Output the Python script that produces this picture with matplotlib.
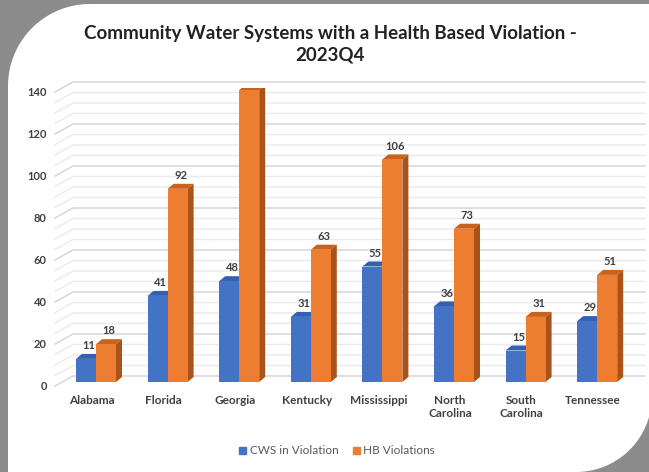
import numpy as np
import matplotlib.pyplot as plt
from matplotlib.patches import Polygon, Rectangle

plt.rcParams['font.family'] = ['Lato', 'DejaVu Sans']

states = ["Alabama", "Florida", "Georgia", "Kentucky", "Mississippi",
          "North\nCarolina", "South\nCarolina", "Tennessee"]
cws = [11, 41, 48, 31, 55, 36, 15, 29]
hb = [18, 92, 139, 63, 106, 73, 31, 51]
series = ["CWS in Violation", "HB Violations"]
yticks = [0, 20, 40, 60, 80, 100, 120, 140]

blue, blue_top = "#4472c4", "#3360b4"
orange, orange_top, orange_side = "#ed7d31", "#c8621c", "#a9531a"
txt = "#404040"

W, H = 649, 472
fig = plt.figure(figsize=(W / 100, H / 100), dpi=100)
fig.patch.set_facecolor("#8c8c8c")

# white slide panel with rounded corners (pixel coords)
bg = fig.add_axes([0, 0, 1, 1])
bg.set_xlim(0, W)
bg.set_ylim(H, 0)
bg.axis("off")
r1, c1 = 82, (8 + 82, 4 + 82)
t1 = np.linspace(np.pi, 1.5 * np.pi, 40)
arc1 = np.c_[c1[0] + r1 * np.cos(t1), c1[1] + r1 * np.sin(t1)]
r2, c2 = 76, (576, 396)
t2 = np.linspace(0, 0.5 * np.pi, 40)
arc2 = np.c_[c2[0] + r2 * np.cos(t2), c2[1] + r2 * np.sin(t2)]
pts = np.vstack([arc1, [[700, 4], [700, 396]], arc2, [[8, 480]]])
bg.add_patch(Polygon(pts, closed=True, fc="white", ec="none"))

# chart axes: 0 -> bar front bottom, 140 -> bar front top
px_x, px_y = 71.6, 2.1
x0, x1 = (55 - 96) / px_x, (645 - 96) / px_x
ax = fig.add_axes([55 / W, (H - 382) / H, 590 / W, 294 / H])
ax.set_xlim(x0, x1)
ax.set_ylim(0, 140)
ax.axis("off")

# 3d-ish gridlines: side wall slant + back wall
for v in range(0, 141, 5):
    col = "#d2d2d2" if v % 20 == 0 else "#eaeaea"
    ax.plot([x0, x0 + 18 / px_x, x1], [v - 4 / px_y, v + 6 / px_y, v + 6 / px_y],
            color=col, lw=1, clip_on=False, zorder=1)
for v in yticks:
    ax.text(x0 - 8 / px_x, v - 5 / px_y, str(v), ha="right", va="center",
            fontsize=8, fontweight="bold", color=txt)

w = 20 / px_x
dx, dy = 6 / px_x, 5 / px_y
x = np.arange(len(states))
ax.bar(x - w, cws, w, align="edge", color=blue, zorder=3)
ax.bar(x, hb, w, align="edge", color=orange, zorder=5)

for i in x:
    for left, v, ftop, z in [(i - w, cws[i], blue_top, 2), (i, hb[i], orange_top, 4)]:
        ax.add_patch(Polygon([(left, v), (left + dx, v + dy), (left + w + dx, v + dy), (left + w, v)],
                             closed=True, fc=ftop, ec="none", zorder=z))
        ax.annotate(str(v), (left + w / 2 + dx / 2, v + dy), xytext=(0, 2),
                    textcoords="offset points", ha="center", va="bottom",
                    fontsize=8, fontweight="bold", color=txt)
    v = hb[i]
    ax.add_patch(Polygon([(i + w, 0), (i + w + dx, dy), (i + w + dx, v + dy), (i + w, v)],
                         closed=True, fc=orange_side, ec="none", zorder=4))
    ax.text(i - 4 / px_x, -6, states[i], ha="center", va="top", fontsize=8.5,
            fontweight="bold", color=txt, linespacing=1.3)

handles = [Rectangle((0, 0), 1, 1, color=blue), Rectangle((0, 0), 1, 1, color=orange)]
fig.legend(handles, series, loc="center", bbox_to_anchor=(337 / W, 1 - 451 / H), ncol=2,
           frameon=False, handlelength=0.6, handleheight=0.6, handletextpad=0.3,
           columnspacing=1.2, prop={"size": 8.5}, labelcolor="#595959")

fig.text(330 / W, 1 - 44.5 / H, "Community Water Systems with a Health Based Violation -\n2023Q4",
         ha="center", va="center", fontsize=13.5, fontweight="bold", color="#222222",
         linespacing=1.35)

fig.savefig("out.png", dpi=100, facecolor=fig.get_facecolor())
